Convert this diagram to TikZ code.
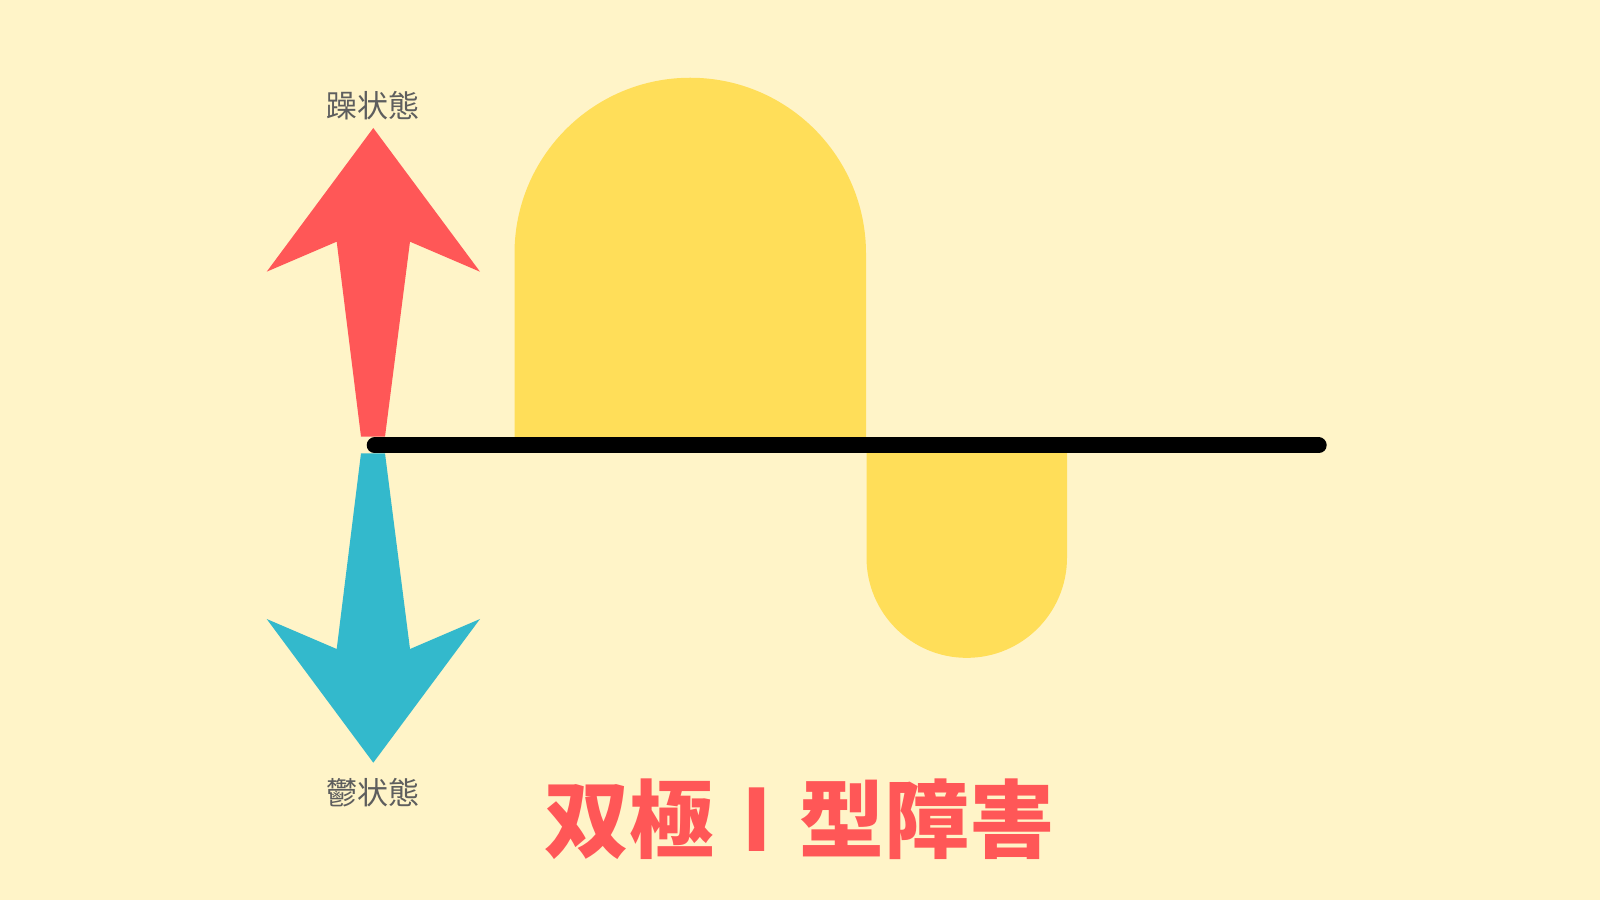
\documentclass[tikz,border=0pt]{standalone}
\usepackage{fontspec}
\newfontfamily\cjk{Noto Sans CJK JP}
\definecolor{bgc}{HTML}{FFF4C8}
\definecolor{yel}{HTML}{FFDE59}
\definecolor{redc}{HTML}{FF5757}
\definecolor{cyanc}{HTML}{33B9CC}
\definecolor{txtc}{HTML}{5E5E5E}
\tikzset{
  blob/.style={fill=yel, draw=none},
  axisline/.style={line width=16pt, line cap=round, draw=black},
  statelabel/.style={font=\cjk\fontsize{31pt}{33pt}\selectfont, text=txtc, inner sep=0pt},
  titlelabel/.style={font=\cjk\bfseries\fontsize{85pt}{87pt}\selectfont, text=redc, inner sep=0pt}
}
\begin{document}
\begin{tikzpicture}[x=1pt,y=1pt]
\useasboundingbox (0,0) rectangle (1600,900);
\fill[bgc] (0,0) rectangle (1600,900);
% yellow shapes
\path[blob] (514.5,455) -- (514.5,646.5) arc[start angle=180,end angle=0,radius=175.75pt] -- (866,455) -- cycle;
\path[blob] (866.5,455) -- (866.5,342.4) arc[start angle=180,end angle=360,radius=100.25pt] -- (1067,455) -- cycle;
% arrows
\fill[redc] (373.3,772) -- (480,628.3) -- (410,658.3) -- (385,463.3) -- (361,463.3) -- (336.7,658.3) -- (266.7,628.3) -- cycle;
\fill[cyanc] (373.3,137.3) -- (480,281) -- (410,251) -- (385,446.7) -- (361,446.7) -- (336.7,251) -- (266.7,281) -- cycle;
% axis
\coordinate (ls) at (374.7,454.5);
\coordinate (le) at (1318.7,454.5);
\draw[axisline] (ls) -- (le);
% labels
\node[statelabel] (mania) at (373.3,794) {躁状態};
\node[statelabel] (depr) at (373.3,107) {鬱状態};
\node[titlelabel] (title) at (799.5,80.5) {双極Ⅰ型障害};
\end{tikzpicture}
\end{document}
